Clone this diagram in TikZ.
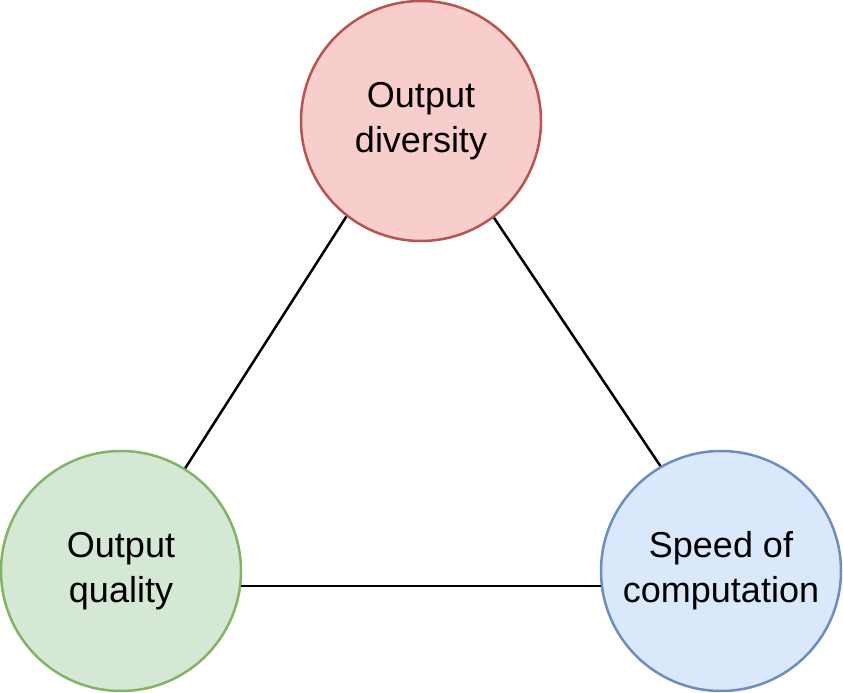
\documentclass[tikz,border=0pt]{standalone}
\usepackage{fontspec}
\setmainfont{Liberation Sans}
\definecolor{redfill}{HTML}{F8CECC}
\definecolor{redline}{HTML}{B85450}
\definecolor{greenfill}{HTML}{D5E8D4}
\definecolor{greenline}{HTML}{82B366}
\definecolor{bluefill}{HTML}{DAE8FC}
\definecolor{blueline}{HTML}{6C8EBF}
\begin{document}
\begin{tikzpicture}[x=1pt,y=1pt,
  bubble/.style={circle, minimum size=240pt, inner sep=0pt, line width=2.5pt,
    align=center, font=\fontsize{36}{45}\selectfont},
  link/.style={line width=2.5pt, black}]
\useasboundingbox (0,0) rectangle (843,693);
\node[bubble, draw=redline, fill=redfill] (div) at (421,572) {Output\\diversity};
\node[bubble, draw=greenline, fill=greenfill] (qual) at (121,122) {Output\\quality};
\node[bubble, draw=blueline, fill=bluefill] (speed) at (721,122) {Speed of\\computation};
\draw[link] (div.232.75) -- (qual.58.8);
\draw[link] (div.307.25) -- (speed.120.8);
\draw[link] (qual.-7.1) -- (speed.187.1);
\end{tikzpicture}
\end{document}
